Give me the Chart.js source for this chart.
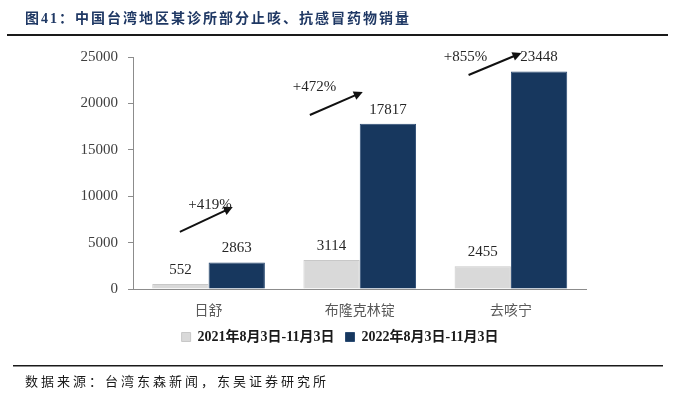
<!DOCTYPE html>
<html><head><meta charset="utf-8">
<script src="https://cdn.jsdelivr.net/npm/chart.js@4/dist/chart.umd.min.js"></script>
<style>html,body{margin:0;padding:0;background:#fff;}canvas{display:block}</style>
</head><body>
<canvas id="c" width="675" height="399"></canvas>
<script>
// ---- data ----
const categories = ['日舒', '布隆克林锭', '去咳宁'];
const seriesNames = ['2021年8月3日-11月3日', '2022年8月3日-11月3日'];
const sales2021 = [552, 3114, 2455];
const sales2022 = [2863, 17817, 23448];
const growthLabels = ['+419%', '+472%', '+855%'];
const yTickValues = [0, 5000, 10000, 15000, 20000, 25000];
const titleText = '图41：中国台湾地区某诊所部分止咳、抗感冒药物销量';
const sourceText = '数据来源：台湾东森新闻，东吴证券研究所';

// ---- annotation placement (category offset, axis value) ----
const annot = {
  arrowFrom: [[-0.19, 6150], [-0.33, 18750], [-0.28, 23060]],
  arrowTo:   [[0.16, 8836], [0.02, 21228], [0.07, 25431]],
  textAt:    [[0.01, 9050], [-0.30, 21770], [-0.30, 25000]]
};

const SERIF = '"Liberation Serif", "Noto Sans CJK SC", serif';
const CJK = '"Noto Sans CJK SC", sans-serif';

const decor = {
  id: 'decor',
  afterDatasetsDraw(chart) {
    const ctx = chart.ctx, xs = chart.scales.x, ys = chart.scales.y;
    const step = xs.getPixelForValue(1) - xs.getPixelForValue(0);
    const px = (i, off) => xs.getPixelForValue(i) + off * step;
    ctx.save();
    ctx.font = '15px ' + SERIF;
    ctx.fillStyle = '#262626';
    ctx.textAlign = 'center';
    ctx.textBaseline = 'middle';
    chart.data.datasets.forEach((ds, di) => {
      chart.getDatasetMeta(di).data.forEach((bar, i) => {
        ctx.fillText(String(ds.data[i]), bar.x, bar.y - 14);
      });
    });
    growthLabels.forEach((lab, i) => {
      const x0 = px(i, annot.arrowFrom[i][0]), y0 = ys.getPixelForValue(annot.arrowFrom[i][1]);
      const x1 = px(i, annot.arrowTo[i][0]), y1 = ys.getPixelForValue(annot.arrowTo[i][1]);
      const ang = Math.atan2(y1 - y0, x1 - x0);
      const L = 9, W = 4.5;
      ctx.strokeStyle = '#111'; ctx.fillStyle = '#111'; ctx.lineWidth = 2;
      ctx.beginPath();
      ctx.moveTo(x0, y0);
      ctx.lineTo(x1 - Math.cos(ang) * L * 0.8, y1 - Math.sin(ang) * L * 0.8);
      ctx.stroke();
      ctx.beginPath();
      ctx.moveTo(x1, y1);
      ctx.lineTo(x1 - Math.cos(ang) * L - Math.sin(ang) * W, y1 - Math.sin(ang) * L + Math.cos(ang) * W);
      ctx.lineTo(x1 - Math.cos(ang) * L + Math.sin(ang) * W, y1 - Math.sin(ang) * L - Math.cos(ang) * W);
      ctx.closePath();
      ctx.fill();
      ctx.fillStyle = '#262626';
      ctx.font = '15px ' + SERIF;
      ctx.fillText(lab, px(i, annot.textAt[i][0]), ys.getPixelForValue(annot.textAt[i][1]));
    });
    ctx.restore();
  },
  afterDraw(chart) {
    const ctx = chart.ctx;
    ctx.save();
    ctx.textAlign = 'left';
    ctx.textBaseline = 'middle';
    ctx.fillStyle = '#1f3864';
    ctx.font = 'bold 14px ' + SERIF;
    if ('letterSpacing' in ctx) ctx.letterSpacing = '2px';
    ctx.fillText(titleText, 25, 19);
    ctx.fillStyle = '#1a1a1a';
    ctx.fillRect(7, 34, 661, 2);
    ctx.fillRect(13, 365, 650, 1.5);
    ctx.font = '13px ' + CJK;
    if ('letterSpacing' in ctx) ctx.letterSpacing = '3px';
    ctx.fillText(sourceText, 25, 381);
    ctx.restore();
  }
};

new Chart(document.getElementById('c'), {
  type: 'bar',
  data: {
    labels: categories,
    datasets: [
      { label: seriesNames[0], data: sales2021, backgroundColor: '#d9d9d9', borderColor: '#c8c8c8', borderWidth: 1 },
      { label: seriesNames[1], data: sales2022, backgroundColor: '#17375e', borderColor: '#2c4c74', borderWidth: 1 }
    ]
  },
  options: {
    responsive: false,
    animation: false,
    devicePixelRatio: 1,
    layout: { padding: { left: 5, right: 0, top: 57, bottom: 45 } },
    datasets: { bar: { categoryPercentage: 0.745, barPercentage: 1.0 } },
    scales: {
      x: {
        grid: { display: true, drawOnChartArea: false, drawTicks: false },
        border: { color: '#8c8c8c', width: 1 },
        ticks: { font: { family: CJK, size: 14 }, color: '#595959', padding: 12 },
        afterFit(s) { s.height = 30; }
      },
      y: {
        min: 0, max: 25000,
        afterBuildTicks(s) { s.ticks = yTickValues.map(v => ({ value: v })); },
        grid: { display: true, drawOnChartArea: false, drawTicks: true, tickLength: 5, color: '#8c8c8c' },
        border: { color: '#8c8c8c', width: 1 },
        ticks: { font: { family: SERIF, size: 15 }, color: '#404040', padding: 10, callback: v => String(v) },
        afterFit(s) { s.width = 128; }
      },
      yRight: {
        position: 'right',
        display: true,
        grid: { display: false, drawTicks: false },
        border: { display: false },
        ticks: { display: false },
        afterFit(s) { s.width = 88.5; }
      }
    },
    plugins: {
      legend: {
        position: 'bottom',
        labels: {
          boxWidth: 9, boxHeight: 9, padding: 11,
          font: { family: SERIF, size: 14, weight: 'bold' },
          color: '#1a1a1a'
        }
      },
      tooltip: { enabled: false }
    }
  },
  plugins: [decor]
});
</script>
</body></html>
